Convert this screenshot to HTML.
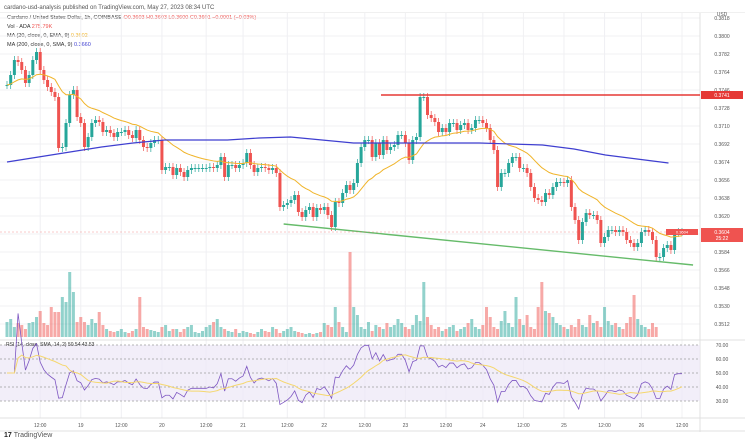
<!DOCTYPE html>
<html><head><meta charset="utf-8"><style>
html,body{margin:0;padding:0;background:#fff;width:745px;height:441px;overflow:hidden;font-family:"Liberation Sans",sans-serif}
svg text{font-family:"Liberation Sans",sans-serif}
</style></head><body>
<svg id="c" width="745" height="441" viewBox="0 0 745 441" xmlns="http://www.w3.org/2000/svg">
<text x="4" y="9" font-size="6" fill="#555">cardano-usd-analysis published on TradingView.com, May 27, 2023 08:34 UTC</text>
<rect x="0" y="12" width="745" height="0.6" fill="#e6e6e6"/>
<g font-size="5.5">
<text x="7" y="19" fill="#333">Cardano / United States Dollar, 1h, COINBASE <tspan fill="#ef5350">O0.3603 H0.3603 L0.3600 C0.3601 −0.0001 (−0.03%)</tspan></text>
<text x="7" y="28" fill="#333">Vol · ADA <tspan fill="#ef5350">275.79K</tspan></text>
<text x="7" y="37" fill="#333">MA (20, close, 0, EMA, 9) <tspan fill="#f0b429">0.3602</tspan></text>
<text x="7" y="46" fill="#333">MA (200, close, 0, SMA, 9) <tspan fill="#3f3fd0">0.3660</tspan></text>
</g>
<g id="grid"></g><g id="rsibg"></g><g id="vol"></g><g id="candles"></g><g id="lines"></g><g id="axis"></g>
<text x="4" y="437" font-size="7" font-weight="bold" fill="#222">17 <tspan font-weight="normal" fill="#555">TradingView</tspan></text>
</svg>
<script>
const closes=[0.3751,0.3761,0.3776,0.3774,0.3766,0.3753,0.3761,0.3776,0.3784,0.3766,0.3756,0.3749,0.3744,0.3739,0.3688,0.3689,0.3713,0.3741,0.3746,0.3719,0.3713,0.3689,0.3699,0.3713,0.3716,0.3714,0.3704,0.3706,0.3703,0.3699,0.3704,0.3704,0.3706,0.3701,0.3698,0.3706,0.3696,0.3689,0.3688,0.3693,0.3696,0.3696,0.3666,0.3669,0.3669,0.3661,0.3668,0.3664,0.3659,0.3666,0.3668,0.3668,0.3668,0.3668,0.3668,0.3669,0.3668,0.3671,0.3679,0.3659,0.3671,0.3671,0.3668,0.3671,0.3673,0.3683,0.3671,0.3664,0.3668,0.3669,0.3668,0.3666,0.3668,0.3663,0.3629,0.3631,0.3633,0.3636,0.3641,0.3624,0.3619,0.3626,0.3629,0.3619,0.3628,0.3626,0.3629,0.3621,0.3609,0.3634,0.3633,0.3643,0.3651,0.3646,0.3653,0.3673,0.3689,0.3696,0.3696,0.3679,0.3693,0.3681,0.3696,0.3686,0.3689,0.3691,0.3701,0.3701,0.3693,0.3676,0.3696,0.3699,0.3739,0.3739,0.3721,0.3718,0.3714,0.3704,0.3708,0.3704,0.3713,0.3713,0.3706,0.3711,0.3713,0.3706,0.3708,0.3716,0.3716,0.3713,0.3708,0.3696,0.3686,0.3649,0.3663,0.3663,0.3673,0.3679,0.3679,0.3668,0.3668,0.3663,0.3649,0.3638,0.3636,0.3634,0.3643,0.3641,0.3649,0.3654,0.3654,0.3653,0.3656,0.3629,0.3616,0.3596,0.3614,0.3623,0.3621,0.3621,0.3616,0.3593,0.3599,0.3606,0.3606,0.3604,0.3606,0.3604,0.3596,0.3593,0.3589,0.3593,0.3604,0.3606,0.3604,0.3596,0.3579,0.3579,0.3588,0.3591,0.3586,0.3603,0.3604,0.3604];
const volumes=[15,18,10,14,12,8,14,15,20,26,14,12,30,25,25,40,35,65,45,15,20,15,12,18,14,25,12,8,6,5,6,8,5,4,6,8,40,10,8,7,6,5,10,12,6,8,8,5,8,10,12,5,4,6,10,12,15,18,10,8,6,5,8,4,6,5,4,3,5,8,6,5,10,8,4,6,8,10,6,5,4,3,4,3,4,5,14,12,10,30,15,10,5,85,30,22,10,8,15,6,12,10,8,14,10,12,18,14,10,8,12,22,16,55,20,12,8,10,6,8,10,12,6,8,10,14,18,10,8,12,30,20,10,8,16,26,14,10,40,18,12,22,10,8,30,55,26,24,20,14,12,10,8,12,10,18,12,10,22,14,16,10,30,16,12,14,10,8,14,20,42,18,12,10,8,14,10];
const ma200=[0.3674,0.3679,0.3684,0.3689,0.3693,0.3696,0.3696,0.3696,0.3698,0.3699,0.3696,0.3693,0.3693,0.3693,0.3693,0.3693,0.3692,0.3691,0.3687,0.3681,0.3677,0.3673];
const priceTicks=[0.3818,0.3800,0.3782,0.3764,0.3746,0.3728,0.3710,0.3692,0.3674,0.3656,0.3638,0.3620,0.3602,0.3584,0.3566,0.3548,0.3530,0.3512];
const rsiTicks=[70,60,50,40,30];
const timeLabels=["12:00","19","12:00","20","12:00","21","12:00","22","12:00","23","12:00","24","12:00","25","12:00","26","12:00"];
const timeIdx=[9,20,31,42,54,64,76,86,97,108,119,129,140,151,162,172,183];
const resistance=0.3741, supportStart=[75,0.3612], supportEnd=[186,0.3571];

const NS="http://www.w3.org/2000/svg";
function mk(tag,attrs,parent){const e=document.createElementNS(NS,tag);for(const k in attrs)e.setAttribute(k,attrs[k]);parent.appendChild(e);return e;}
const n=closes.length, X0=7, X1=682, dx=(X1-X0)/(n-1);
const xi=i=>X0+i*dx;
const yp=p=>(0.3836-p)*10000;
const VB=337, vy=v=>VB-v;
const ry=r=>345+(70-r)*(56/40);
const G=id=>document.getElementById(id);

// grid
const grid=G('grid');
priceTicks.forEach(t=>{mk('line',{x1:0,x2:700,y1:yp(t),y2:yp(t),stroke:'#f0f0f3','stroke-width':1},grid);});
timeIdx.forEach(i=>{mk('line',{x1:xi(i),x2:xi(i),y1:13,y2:418,stroke:'#f0f0f3','stroke-width':1},grid);});
mk('line',{x1:700,x2:700,y1:13,y2:432,stroke:'#e0e0e0'},grid);
mk('line',{x1:0,x2:745,y1:340,y2:340,stroke:'#e0e0e0'},grid);
mk('line',{x1:0,x2:745,y1:418,y2:418,stroke:'#e0e0e0'},grid);
mk('line',{x1:0,x2:745,y1:431,y2:431,stroke:'#e0e0e0'},grid);

// rsi background
const rb=G('rsibg');
const bg=mk('rect',{x:0,y:ry(70),width:700,height:ry(30)-ry(70),fill:'#ede7f6',opacity:0.7},rb);


rsiTicks.forEach(t=>{const l=mk('line',{x1:0,x2:700,y1:ry(t),y2:ry(t),stroke:'#9e9e9e','stroke-dasharray':'2,2','stroke-width':0.7},rb);});
mk('text',{x:6,y:346,'font-size':5,fill:'#333'},rb).textContent='RSI (14, close, SMA, 14, 2) 50.54 43.53';

// volume
const vg=G('vol');
for(let i=0;i<n;i++){const o=i?closes[i-1]:closes[0];const up=closes[i]>=o;const v=volumes[i]||0;
 const r=mk('rect',{x:xi(i)-1.5,y:vy(v),width:3,height:v,fill:up?'#26a69a':'#ef5350',opacity:0.5},vg);
 
 }

// candles
const cg=G('candles');
for(let i=0;i<n;i++){const o=i?closes[i-1]:closes[0],c=closes[i];const up=c>=o;const col=up?'#26a69a':'#ef5350';
 const hi=Math.max(o,c)+0.0004,lo=Math.min(o,c)-0.0004;
 mk('line',{x1:xi(i),x2:xi(i),y1:yp(hi),y2:yp(lo),stroke:col,'stroke-width':0.7},cg);
 const top=yp(Math.max(o,c)),h=Math.max(1,yp(Math.min(o,c))-top);
 const r=mk('rect',{x:xi(i)-1.5,y:top,width:3,height:h,fill:col},cg);
 
 }

// lines
const lg=G('lines');
// EMA20
let ema=[],k=2/21,e=closes[0];closes.forEach((c,i)=>{e=i?c*k+e*(1-k):c;ema.push(e);});
const emaP=mk('polyline',{points:ema.map((v,i)=>xi(i)+','+yp(v)).join(' '),fill:'none',stroke:'#f0b429','stroke-width':1},lg);


const step=(n-1)/(ma200.length-1);
const maP=mk('polyline',{points:ma200.map((v,j)=>xi(j*step*0.98)+','+yp(v)).join(' '),fill:'none',stroke:'#3f3fd0','stroke-width':1.2},lg);


const res=mk('line',{x1:381,x2:700,y1:yp(resistance),y2:yp(resistance),stroke:'#e53935','stroke-width':1.6},lg);


const sup=mk('line',{x1:xi(supportStart[0]),y1:yp(supportStart[1]),x2:xi(supportEnd[0]),y2:yp(supportEnd[1]),stroke:'#66bb6a','stroke-width':1.4},lg);


mk('line',{x1:0,x2:700,y1:yp(closes[n-1]),y2:yp(closes[n-1]),stroke:'#ef5350','stroke-dasharray':'2,2','stroke-width':0.5,opacity:0.6},lg);
// RSI
let g=0,l=0,rsi=[];
for(let i=0;i<n;i++){const d=i?closes[i]-closes[i-1]:0;const up=Math.max(d,0),dn=Math.max(-d,0);
 if(i<=14){g+=up/14;l+=dn/14;}else{g=(g*13+up)/14;l=(l*13+dn)/14;}
 rsi.push(l===0?50:100-100/(1+g/l));}
let rma=rsi.map((v,i)=>{const s=rsi.slice(Math.max(0,i-13),i+1);return s.reduce((a,b)=>a+b,0)/s.length;});
const rP=mk('polyline',{points:rsi.map((v,i)=>xi(i)+','+ry(v)).join(' '),fill:'none',stroke:'#7e57c2','stroke-width':0.8},lg);


const rmP=mk('polyline',{points:rma.map((v,i)=>xi(i)+','+ry(v)).join(' '),fill:'none',stroke:'#f5d76e','stroke-width':1},lg);



// axes
const ag=G('axis');
mk('text',{x:722,y:16,'font-size':5,fill:'#555','text-anchor':'middle'},ag).textContent='USD';
priceTicks.forEach(t=>{const tx=mk('text',{x:722,y:yp(t)+2,'font-size':5,fill:'#555','text-anchor':'middle'},ag);
 
 
 tx.textContent=t.toFixed(4);});
rsiTicks.forEach(t=>{const tx=mk('text',{x:722,y:ry(t)+2,'font-size':5,fill:'#555','text-anchor':'middle'},ag);
 
 
 tx.textContent=t.toFixed(2);});
timeLabels.forEach((t,j)=>{const tx=mk('text',{x:xi(timeIdx[j]),y:427,'font-size':5,fill:'#555','text-anchor':'middle'},ag);
 
 
 tx.textContent=t;});
mk('rect',{x:701,y:yp(resistance)-4,width:42,height:8,fill:'#e53935'},ag);
mk('text',{x:722,y:yp(resistance)+2,'font-size':5,fill:'#fff','text-anchor':'middle'},ag).textContent=resistance.toFixed(4);
const cy=yp(closes[n-1]);
mk('rect',{x:701,y:cy-4,width:42,height:14,fill:'#ef5350'},ag);
mk('text',{x:722,y:cy+2,'font-size':5,fill:'#fff','text-anchor':'middle'},ag).textContent=closes[n-1].toFixed(4);
mk('text',{x:722,y:cy+8,'font-size':5,fill:'#fff','text-anchor':'middle'},ag).textContent='25:22';
mk('rect',{x:666,y:cy-3,width:32,height:6,fill:'#ef5350'},ag);
mk('text',{x:682,y:cy+1.5,'font-size':4,fill:'#fff','text-anchor':'middle'},ag).textContent='0.3604';
</script>
</body></html>
